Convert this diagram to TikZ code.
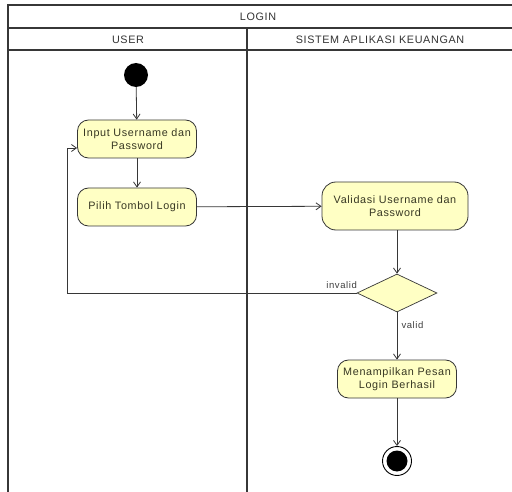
\documentclass[tikz,border=0pt]{standalone}
\usepackage{fontspec}
\setmainfont{Liberation Sans}
\newfontfamily\diagfont[LetterSpace=6]{Liberation Sans}
\usetikzlibrary{arrows.meta,shapes.geometric}
\definecolor{actfill}{RGB}{255,255,196}
\definecolor{lineclr}{RGB}{55,55,55}
\definecolor{txtclr}{RGB}{55,55,35}
\begin{document}
\begin{tikzpicture}[x=1pt,y=-1pt,
  lane/.style={draw=lineclr,line width=1.1pt},
  action/.style={draw=lineclr,line width=0.8pt,fill=actfill,rounded corners=11pt,
    minimum width=119pt,minimum height=38pt,align=center,inner xsep=1pt,
    font=\diagfont\fontsize{10.8}{12.5}\selectfont,text=txtclr},
  decision/.style={draw=lineclr,line width=0.7pt,fill=actfill,diamond,aspect=2.1,
    minimum width=80pt,minimum height=38pt,inner sep=0pt},
  flow/.style={draw=lineclr,line width=0.8pt,-{Straight Barb[length=5pt,width=7pt]}},
  hdr/.style={font=\diagfont\fontsize{10.8}{12}\selectfont,text=black!80},
  lbl/.style={font=\diagfont\fontsize{9.5}{11}\selectfont,text=black!75}]
\useasboundingbox (0,0) rectangle (512,492);
\fill[white] (0,0) rectangle (512,492);
% swimlane frame
\draw[lane] (512,5) -- (8,5) -- (8,492);
\draw[lane] (8,28) -- (512,28);
\draw[lane] (8,50) -- (512,50);
\draw[lane] (247,28) -- (247,492);
\node[hdr] (title) at (258,17) {LOGIN};
\node[hdr] (userlane) at (128,40) {USER};
\node[hdr] (syslane) at (380,40) {SISTEM APLIKASI KEUANGAN};
% activities
\node[circle,fill=black,minimum size=24pt,inner sep=0pt] (start) at (136,75) {};
\node[action] (input) at (137,139) {Input Username dan\\Password};
\node[action] (pilih) at (137,207) {Pilih Tombol Login};
\node[action,minimum width=146pt,minimum height=48pt,rounded corners=14pt] (valid) at (395,206) {Validasi Username dan\\Password};
\node[decision] (dec) at (397,293) {};
\node[action] (tampil) at (397,379) {Menampilkan Pesan\\Login Berhasil};
\node[circle,draw=black,line width=0.9pt,minimum size=29pt,inner sep=0pt] (end) at (397,461) {};
\node[circle,fill=black,minimum size=21pt,inner sep=0pt] at (end.center) {};
% flows
\draw[flow] (start) -- (input);
\draw[flow] (input) -- (pilih);
\draw[flow] (pilih) -- (valid);
\draw[flow] (valid.south -| dec.north) -- (dec.north);
\draw[flow] (dec.west) -- (67,293) -- (67,148) -- (input.west |- 0,148);
\draw[flow] (dec.south) -- (tampil.north);
\draw[flow] (tampil) -- (end);
\node[lbl,anchor=south east,inner xsep=1pt] (inv) at (358,292) {invalid};
\node[lbl,anchor=west] (val) at (398,325) {valid};
\end{tikzpicture}
\end{document}
